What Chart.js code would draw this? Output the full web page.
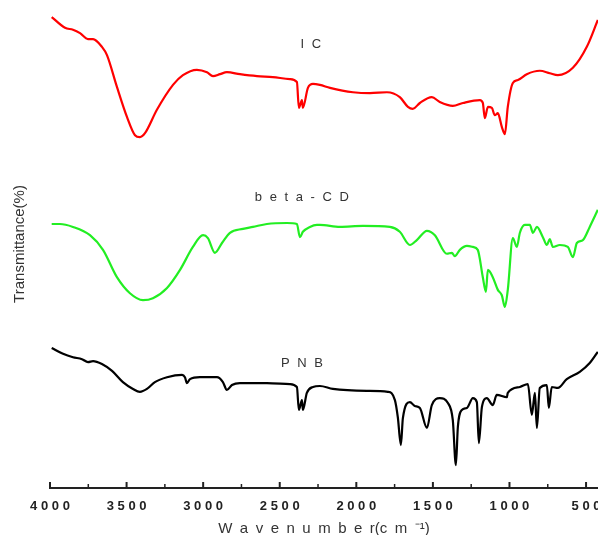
<!DOCTYPE html>
<html>
<head>
<meta charset="utf-8">
<script src="https://cdn.jsdelivr.net/npm/chart.js@4"></script>
<style>
  html, body { margin: 0; padding: 0; background: #fff; }
  #wrap { width: 598px; height: 535px; }
</style>
</head>
<body>
<div id="wrap"><canvas id="ftir" width="598" height="535"></canvas></div>
<script>
// FTIR spectra: wavenumber (cm-1) and stacked transmittance
const icWavenumber = [3989, 3902, 3850, 3804, 3752, 3719, 3661, 3628, 3563, 3497, 3445, 3413, 3380, 3302, 3197, 3132, 3041, 2975, 2936, 2890, 2845, 2760, 2649, 2545, 2434, 2388, 2375, 2355, 2349, 2316, 2283, 2238, 2172, 2022, 1911, 1800, 1716, 1663, 1631, 1585, 1507, 1455, 1370, 1304, 1193, 1174, 1161, 1141, 1115, 1096, 1076, 1050, 1030, 1011, 978, 945, 887, 802, 737, 684, 586, 495, 423];
const icTransmittance = [96.5, 94.3, 93.9, 93.2, 92.0, 92.0, 90.4, 88.7, 82.2, 76.0, 72.3, 71.9, 72.7, 77.5, 82.6, 84.6, 85.7, 85.2, 84.4, 84.8, 85.2, 84.8, 84.4, 84.2, 83.8, 83.2, 77.9, 79.5, 77.9, 82.0, 82.8, 82.6, 82.0, 81.1, 80.9, 81.1, 80.1, 78.1, 77.7, 78.9, 80.1, 79.1, 78.3, 78.9, 79.5, 78.9, 75.8, 78.1, 77.9, 76.4, 76.8, 74.0, 72.5, 78.1, 83.0, 83.6, 84.8, 85.5, 85.0, 84.6, 86.1, 90.4, 95.9];

const cdWavenumber = [3989, 3935, 3850, 3739, 3654, 3563, 3478, 3393, 3328, 3236, 3151, 3067, 3001, 2969, 2923, 2877, 2825, 2740, 2675, 2584, 2453, 2388, 2368, 2349, 2303, 2257, 2238, 2107, 1957, 1781, 1716, 1650, 1605, 1539, 1487, 1409, 1376, 1357, 1324, 1278, 1239, 1207, 1174, 1154, 1141, 1109, 1076, 1050, 1030, 1011, 978, 952, 932, 900, 867, 847, 821, 782, 756, 737, 717, 671, 619, 586, 560, 521, 476, 423];
const cdTransmittance = [54.1, 54.1, 53.5, 51.8, 48.8, 43.2, 39.9, 38.5, 38.9, 41.0, 44.7, 49.4, 51.8, 51.2, 48.2, 50.2, 52.3, 53.1, 53.5, 54.1, 54.3, 54.1, 51.4, 52.5, 53.5, 53.9, 53.9, 53.5, 53.7, 53.5, 52.5, 49.8, 50.8, 52.7, 51.8, 48.0, 48.2, 47.5, 48.8, 49.6, 49.4, 48.8, 43.2, 40.2, 44.7, 43.2, 40.6, 39.5, 37.1, 40.6, 51.2, 49.4, 52.3, 53.9, 53.9, 52.3, 53.5, 51.4, 49.8, 51.0, 49.4, 49.8, 49.4, 47.3, 50.2, 50.8, 53.5, 57.0];

const pnbWavenumber = [3989, 3915, 3850, 3791, 3752, 3719, 3661, 3595, 3524, 3458, 3413, 3367, 3315, 3236, 3138, 3119, 3106, 3086, 3021, 2910, 2871, 2845, 2812, 2760, 2695, 2584, 2434, 2388, 2375, 2355, 2349, 2323, 2283, 2238, 2153, 1931, 1794, 1748, 1729, 1709, 1696, 1650, 1618, 1585, 1539, 1507, 1455, 1402, 1370, 1350, 1337, 1311, 1278, 1239, 1213, 1200, 1180, 1148, 1109, 1083, 1017, 1011, 932, 880, 854, 834, 821, 802, 756, 743, 724, 684, 626, 541, 476, 423];
const pnbTransmittance = [28.7, 27.5, 26.8, 26.4, 25.8, 26.0, 25.4, 24.0, 21.7, 20.3, 19.7, 20.3, 21.7, 22.7, 23.2, 22.7, 21.5, 22.3, 22.7, 22.7, 21.7, 20.1, 21.1, 21.5, 21.5, 21.5, 21.3, 20.7, 16.0, 18.0, 16.0, 19.5, 20.7, 20.9, 20.3, 19.9, 19.7, 18.0, 14.5, 8.8, 14.3, 17.6, 16.8, 16.4, 12.3, 17.0, 18.4, 17.4, 13.9, 4.7, 12.5, 16.0, 16.4, 18.4, 17.6, 9.2, 16.6, 18.4, 17.0, 19.1, 18.6, 19.5, 20.7, 21.3, 15.0, 19.5, 12.3, 20.5, 21.1, 16.4, 20.7, 20.5, 22.3, 23.8, 25.6, 27.9];

const xTicks = [4000, 3500, 3000, 2500, 2000, 1500, 1000, 500];
const traceNames = ['I C', 'b e t a - C D', 'P N B'];
const traceNameAt = [[2290, 90.8], [2349, 59.6], [2349, 25.6]];

const FONT = '"Liberation Sans", Arial, sans-serif';

function toPoints(xs, ys) {
  return xs.map((w, i) => ({ x: w, y: ys[i] }));
}

// origin-style ticks pointing into the plot, with minor ticks between labels
const inwardTicks = {
  id: 'inwardTicks',
  afterDraw(chart) {
    const { ctx, chartArea, scales: { x } } = chart;
    ctx.save();
    ctx.strokeStyle = '#222';
    for (let v = 4000; v >= x.min; v -= 250) {
      const px = x.getPixelForValue(v);
      const major = v % 500 === 0;
      ctx.lineWidth = major ? 2 : 1.5;
      ctx.beginPath();
      ctx.moveTo(px, chartArea.bottom);
      ctx.lineTo(px, chartArea.bottom - (major ? 6 : 4));
      ctx.stroke();
    }
    ctx.restore();
  }
};

const traceLabels = {
  id: 'traceLabels',
  afterDatasetsDraw(chart) {
    const { ctx, scales: { x, y } } = chart;
    ctx.save();
    ctx.font = '13px ' + FONT;
    ctx.fillStyle = '#333';
    ctx.textAlign = 'center';
    ctx.textBaseline = 'middle';
    ctx.letterSpacing = '2px';
    traceNames.forEach((t, i) => {
      ctx.fillText(t, x.getPixelForValue(traceNameAt[i][0]), y.getPixelForValue(traceNameAt[i][1]));
    });
    ctx.restore();
  }
};

const line = (data, color) => ({
  data, borderColor: color, borderWidth: 2.2, pointRadius: 0,
  cubicInterpolationMode: 'monotone', fill: false
});

new Chart(document.getElementById('ftir'), {
  type: 'line',
  data: {
    datasets: [
      line(toPoints(icWavenumber, icTransmittance), '#ff0000'),
      line(toPoints(cdWavenumber, cdTransmittance), '#22ee22'),
      line(toPoints(pnbWavenumber, pnbTransmittance), '#000000')
    ]
  },
  options: {
    responsive: false,
    animation: false,
    devicePixelRatio: 1,
    layout: { padding: 0 },
    plugins: { legend: { display: false }, tooltip: { enabled: false } },
    scales: {
      x: {
        type: 'linear',
        reverse: true,
        min: 422,
        max: 4000,
        afterBuildTicks: s => { s.ticks = xTicks.map(v => ({ value: v })); },
        afterFit: s => { s.paddingLeft = 0; s.paddingRight = 0; s.height = 47; },
        grid: { display: false, drawTicks: false },
        border: { display: true, color: '#222', width: 2 },
        ticks: {
          autoSkip: false, maxRotation: 0, padding: 11, color: '#222',
          font: { family: FONT, size: 13, weight: 'bold' },
          callback: v => String(v).split('').join(' ')
        },
        title: {
          display: true,
          text: 'W\u2002a\u2002v\u2002e\u2002n\u2002u\u2002m\u2002b\u2002e\u2002r(c\u2002m\u2002\u207B\u00B9)',
          color: '#333',
          font: { family: FONT, size: 15, lineHeight: 0.8 },
          padding: { top: 9.6, bottom: 0 }
        }
      },
      y: {
        min: 0,
        max: 100,
        ticks: { display: false },
        grid: { display: false, drawTicks: false },
        border: { display: false },
        title: {
          display: true,
          text: 'Transmittance(%)',
          color: '#333',
          font: { family: FONT, size: 15, lineHeight: 1 },
          padding: { top: 12, bottom: 23 }
        }
      }
    }
  },
  plugins: [inwardTicks, traceLabels]
});
</script>
</body>
</html>
